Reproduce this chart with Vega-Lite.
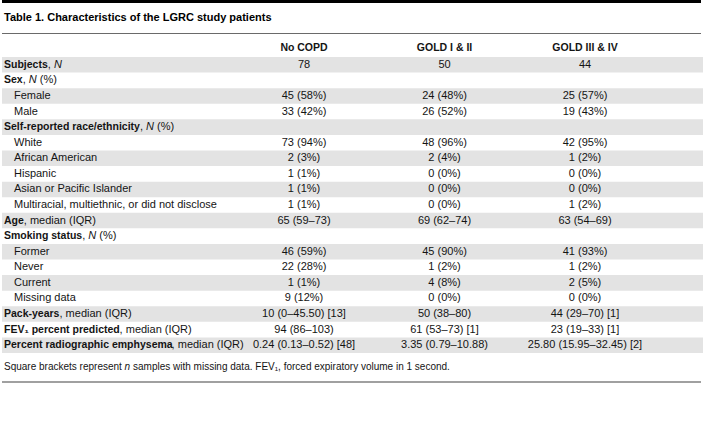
{
  "$schema": "https://vega.github.io/schema/vega-lite/v6.json",
  "width": 703,
  "height": 436,
  "autosize": {"type": "fit", "contains": "padding"},
  "padding": 0,
  "background": "white",
  "config": {
    "view": {"stroke": null},
    "text": {"font": "Liberation Sans", "fontSize": 11, "color": "#141414", "baseline": "middle"}
  },
  "datasets": {
    "labels": [
      {"row": 0, "label": "Subjects", "kind": "head", "suffix": ",", "n": "N", "pct": ""},
      {"row": 1, "label": "Sex", "kind": "head", "suffix": ",", "n": "N", "pct": "(%)"},
      {"row": 2, "label": "Female", "kind": "sub"},
      {"row": 3, "label": "Male", "kind": "sub"},
      {"row": 4, "label": "Self-reported race/ethnicity", "kind": "head", "suffix": ",", "n": "N", "pct": "(%)"},
      {"row": 5, "label": "White", "kind": "sub"},
      {"row": 6, "label": "African American", "kind": "sub"},
      {"row": 7, "label": "Hispanic", "kind": "sub"},
      {"row": 8, "label": "Asian or Pacific Islander", "kind": "sub"},
      {"row": 9, "label": "Multiracial, multiethnic, or did not disclose", "kind": "sub"},
      {"row": 10, "label": "Age", "kind": "head", "suffix": ", median (IQR)"},
      {"row": 11, "label": "Smoking status", "kind": "head", "suffix": ",", "n": "N", "pct": "(%)"},
      {"row": 12, "label": "Former", "kind": "sub"},
      {"row": 13, "label": "Never", "kind": "sub"},
      {"row": 14, "label": "Current", "kind": "sub"},
      {"row": 15, "label": "Missing data", "kind": "sub"},
      {"row": 16, "label": "Pack-years", "kind": "head", "suffix": ", median (IQR)"},
      {"row": 17, "label": "FEV₁ percent predicted", "kind": "head", "suffix": ", median (IQR)"},
      {"row": 18, "label": "Percent radiographic emphysema", "kind": "head", "suffix": ", median (IQR)"}
    ],
    "cells": [
      {"row": 0, "group": "No COPD", "value": "78"},
      {"row": 0, "group": "GOLD I & II", "value": "50"},
      {"row": 0, "group": "GOLD III & IV", "value": "44"},
      {"row": 2, "group": "No COPD", "value": "45 (58%)"},
      {"row": 2, "group": "GOLD I & II", "value": "24 (48%)"},
      {"row": 2, "group": "GOLD III & IV", "value": "25 (57%)"},
      {"row": 3, "group": "No COPD", "value": "33 (42%)"},
      {"row": 3, "group": "GOLD I & II", "value": "26 (52%)"},
      {"row": 3, "group": "GOLD III & IV", "value": "19 (43%)"},
      {"row": 5, "group": "No COPD", "value": "73 (94%)"},
      {"row": 5, "group": "GOLD I & II", "value": "48 (96%)"},
      {"row": 5, "group": "GOLD III & IV", "value": "42 (95%)"},
      {"row": 6, "group": "No COPD", "value": "2 (3%)"},
      {"row": 6, "group": "GOLD I & II", "value": "2 (4%)"},
      {"row": 6, "group": "GOLD III & IV", "value": "1 (2%)"},
      {"row": 7, "group": "No COPD", "value": "1 (1%)"},
      {"row": 7, "group": "GOLD I & II", "value": "0 (0%)"},
      {"row": 7, "group": "GOLD III & IV", "value": "0 (0%)"},
      {"row": 8, "group": "No COPD", "value": "1 (1%)"},
      {"row": 8, "group": "GOLD I & II", "value": "0 (0%)"},
      {"row": 8, "group": "GOLD III & IV", "value": "0 (0%)"},
      {"row": 9, "group": "No COPD", "value": "1 (1%)"},
      {"row": 9, "group": "GOLD I & II", "value": "0 (0%)"},
      {"row": 9, "group": "GOLD III & IV", "value": "1 (2%)"},
      {"row": 10, "group": "No COPD", "value": "65 (59–73)"},
      {"row": 10, "group": "GOLD I & II", "value": "69 (62–74)"},
      {"row": 10, "group": "GOLD III & IV", "value": "63 (54–69)"},
      {"row": 12, "group": "No COPD", "value": "46 (59%)"},
      {"row": 12, "group": "GOLD I & II", "value": "45 (90%)"},
      {"row": 12, "group": "GOLD III & IV", "value": "41 (93%)"},
      {"row": 13, "group": "No COPD", "value": "22 (28%)"},
      {"row": 13, "group": "GOLD I & II", "value": "1 (2%)"},
      {"row": 13, "group": "GOLD III & IV", "value": "1 (2%)"},
      {"row": 14, "group": "No COPD", "value": "1 (1%)"},
      {"row": 14, "group": "GOLD I & II", "value": "4 (8%)"},
      {"row": 14, "group": "GOLD III & IV", "value": "2 (5%)"},
      {"row": 15, "group": "No COPD", "value": "9 (12%)"},
      {"row": 15, "group": "GOLD I & II", "value": "0 (0%)"},
      {"row": 15, "group": "GOLD III & IV", "value": "0 (0%)"},
      {"row": 16, "group": "No COPD", "value": "10 (0–45.50) [13]"},
      {"row": 16, "group": "GOLD I & II", "value": "50 (38–80)"},
      {"row": 16, "group": "GOLD III & IV", "value": "44 (29–70) [1]"},
      {"row": 17, "group": "No COPD", "value": "94 (86–103)"},
      {"row": 17, "group": "GOLD I & II", "value": "61 (53–73) [1]"},
      {"row": 17, "group": "GOLD III & IV", "value": "23 (19–33) [1]"},
      {"row": 18, "group": "No COPD", "value": "0.24 (0.13–0.52) [48]"},
      {"row": 18, "group": "GOLD I & II", "value": "3.35 (0.79–10.88)"},
      {"row": 18, "group": "GOLD III & IV", "value": "25.80 (15.95–32.45) [2]"}
    ],
    "notes": [
      {"title": "Table 1. Characteristics of the LGRC study patients", "note1": "Square brackets represent", "note2": "n", "note3": "samples with missing data. FEV₁, forced expiratory volume in 1 second."}
    ]
  },
  "layer": [
    {
      "data": {"name": "labels"},
      "transform": [{"filter": "datum.row % 2 == 0"}],
      "mark": {"type": "rect", "color": "#e3e3e3"},
      "encoding": {
        "y": {"field": "row", "type": "ordinal", "axis": null,
              "scale": {"type": "band", "domain": [0,1,2,3,4,5,6,7,8,9,10,11,12,13,14,15,16,17,18], "range": [57, 353], "paddingInner": 0, "paddingOuter": 0}},
        "x": {"value": 0},
        "x2": {"value": 703}
      }
    },
    {
      "data": {"values": [{}]},
      "mark": {"type": "rule", "color": "#000000", "strokeWidth": 3},
      "encoding": {"y": {"value": 1.5}}
    },
    {
      "data": {"values": [{}]},
      "mark": {"type": "rule", "color": "#6a6a6a", "strokeWidth": 1},
      "encoding": {"y": {"value": 33.5}}
    },
    {
      "data": {"values": [{}]},
      "mark": {"type": "rule", "color": "#a0a0a0", "strokeWidth": 2},
      "encoding": {"y": {"value": 382}}
    },
    {
      "data": {"name": "notes"},
      "mark": {"type": "text", "align": "left", "fontWeight": "bold", "fontSize": 11, "color": "#000000"},
      "encoding": {"x": {"value": 2}, "y": {"value": 18}, "text": {"field": "title"}}
    },
    {
      "data": {"name": "notes"},
      "mark": {"type": "text", "align": "left", "fontSize": 10},
      "encoding": {"x": {"value": 2}, "y": {"value": 367}, "text": {"field": "note1"}}
    },
    {
      "data": {"name": "notes"},
      "mark": {"type": "text", "align": "left", "fontSize": 10, "fontStyle": "italic"},
      "encoding": {"x": {"value": 122.6}, "y": {"value": 367}, "text": {"field": "note2"}}
    },
    {
      "data": {"name": "notes"},
      "mark": {"type": "text", "align": "left", "fontSize": 10},
      "encoding": {"x": {"value": 131}, "y": {"value": 367}, "text": {"field": "note3"}}
    },
    {
      "data": {"name": "cells"},
      "transform": [{"filter": "datum.row == 0"}],
      "mark": {"type": "text", "align": "center", "fontWeight": "bold", "fontSize": 10.5},
      "encoding": {
        "x": {"field": "group", "type": "nominal", "axis": null,
              "scale": {"type": "point", "domain": ["No COPD", "GOLD I & II", "GOLD III & IV"], "range": [302, 583], "padding": 0}},
        "y": {"value": 48},
        "text": {"field": "group"}
      }
    },
    {
      "data": {"name": "cells"},
      "mark": {"type": "text", "align": "center"},
      "encoding": {
        "x": {"field": "group", "type": "nominal", "axis": null},
        "y": {"field": "row", "type": "ordinal", "axis": null},
        "text": {"field": "value"}
      }
    },
    {
      "data": {"name": "labels"},
      "transform": [{"filter": "datum.kind == 'head'"}],
      "mark": {"type": "text", "align": "left", "fontWeight": "bold", "fontSize": 10.5},
      "encoding": {"x": {"value": 2}, "y": {"field": "row", "type": "ordinal", "axis": null}, "text": {"field": "label"}}
    },
    {
      "data": {"name": "labels"},
      "transform": [{"filter": "datum.kind == 'sub'"}],
      "mark": {"type": "text", "align": "left"},
      "encoding": {"x": {"value": 12}, "y": {"field": "row", "type": "ordinal", "axis": null}, "text": {"field": "label"}}
    },
    {
      "data": {"name": "labels"},
      "transform": [{"filter": "datum.row == 0"}],
      "layer": [
        {"mark": {"type": "text", "align": "left"}, "encoding": {"x": {"value": 45.8}, "y": {"field": "row", "type": "ordinal", "axis": null}, "text": {"field": "suffix"}}},
        {"mark": {"type": "text", "align": "left", "fontStyle": "italic"}, "encoding": {"x": {"value": 51.9}, "y": {"field": "row", "type": "ordinal", "axis": null}, "text": {"field": "n"}}}
      ]
    },
    {
      "data": {"name": "labels"},
      "transform": [{"filter": "datum.row == 1"}],
      "layer": [
        {"mark": {"type": "text", "align": "left"}, "encoding": {"x": {"value": 20.7}, "y": {"field": "row", "type": "ordinal", "axis": null}, "text": {"field": "suffix"}}},
        {"mark": {"type": "text", "align": "left", "fontStyle": "italic"}, "encoding": {"x": {"value": 26.8}, "y": {"field": "row", "type": "ordinal", "axis": null}, "text": {"field": "n"}}},
        {"mark": {"type": "text", "align": "left"}, "encoding": {"x": {"value": 37.8}, "y": {"field": "row", "type": "ordinal", "axis": null}, "text": {"field": "pct"}}}
      ]
    },
    {
      "data": {"name": "labels"},
      "transform": [{"filter": "datum.row == 4"}],
      "layer": [
        {"mark": {"type": "text", "align": "left"}, "encoding": {"x": {"value": 138}, "y": {"field": "row", "type": "ordinal", "axis": null}, "text": {"field": "suffix"}}},
        {"mark": {"type": "text", "align": "left", "fontStyle": "italic"}, "encoding": {"x": {"value": 144.1}, "y": {"field": "row", "type": "ordinal", "axis": null}, "text": {"field": "n"}}},
        {"mark": {"type": "text", "align": "left"}, "encoding": {"x": {"value": 155.1}, "y": {"field": "row", "type": "ordinal", "axis": null}, "text": {"field": "pct"}}}
      ]
    },
    {
      "data": {"name": "labels"},
      "transform": [{"filter": "datum.row == 11"}],
      "layer": [
        {"mark": {"type": "text", "align": "left"}, "encoding": {"x": {"value": 80.2}, "y": {"field": "row", "type": "ordinal", "axis": null}, "text": {"field": "suffix"}}},
        {"mark": {"type": "text", "align": "left", "fontStyle": "italic"}, "encoding": {"x": {"value": 86.3}, "y": {"field": "row", "type": "ordinal", "axis": null}, "text": {"field": "n"}}},
        {"mark": {"type": "text", "align": "left"}, "encoding": {"x": {"value": 97.3}, "y": {"field": "row", "type": "ordinal", "axis": null}, "text": {"field": "pct"}}}
      ]
    },
    {
      "data": {"name": "labels"},
      "transform": [{"filter": "datum.row == 10"}],
      "mark": {"type": "text", "align": "left"},
      "encoding": {"x": {"value": 21.8}, "y": {"field": "row", "type": "ordinal", "axis": null}, "text": {"field": "suffix"}}
    },
    {
      "data": {"name": "labels"},
      "transform": [{"filter": "datum.row == 16"}],
      "mark": {"type": "text", "align": "left"},
      "encoding": {"x": {"value": 57.5}, "y": {"field": "row", "type": "ordinal", "axis": null}, "text": {"field": "suffix"}}
    },
    {
      "data": {"name": "labels"},
      "transform": [{"filter": "datum.row == 17"}],
      "mark": {"type": "text", "align": "left"},
      "encoding": {"x": {"value": 117.6}, "y": {"field": "row", "type": "ordinal", "axis": null}, "text": {"field": "suffix"}}
    },
    {
      "data": {"name": "labels"},
      "transform": [{"filter": "datum.row == 18"}],
      "mark": {"type": "text", "align": "left"},
      "encoding": {"x": {"value": 169.6}, "y": {"field": "row", "type": "ordinal", "axis": null}, "text": {"field": "suffix"}}
    }
  ]
}
